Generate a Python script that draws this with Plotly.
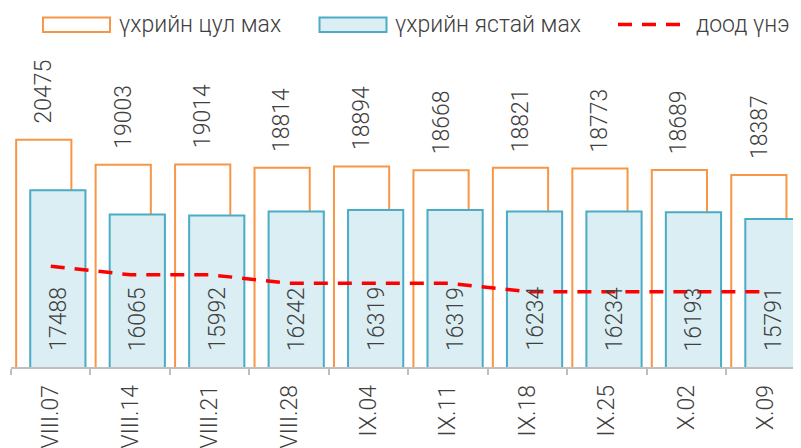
import plotly.graph_objects as go

categories = ["VIII.07", "VIII.14", "VIII.21", "VIII.28", "IX.04", "IX.11", "IX.18", "IX.25", "X.02", "X.09"]
cul_max = [20475, 19003, 19014, 18814, 18894, 18668, 18821, 18773, 18689, 18387]
yastai_max = [17488, 16065, 15992, 16242, 16319, 16319, 16234, 16234, 16193, 15791]
dood_une = [13000, 12500, 12500, 12000, 12000, 12000, 11500, 11500, 11500, 11500]
series_names = ["үхрийн цул мах", "үхрийн ястай мах", "доод үнэ"]

ORANGE = "#F79646"
BLUE_LINE = "#4BACC6"
BLUE_FILL = "#DAEEF3"
RED = "#FF0000"
TXT = "#404040"
FONT = "Roboto"
FS = 23

# page has an 8px body margin; work in page pixels and convert
OFF = 8
W, H = 801 - OFF, 448 - OFF
ML, MR, MT, MB = 11 - OFF, 0, 60 - OFF, 81
PW = W - ML - MR
PH = H - MT - MB
YMIN = 7050
YMAX = YMIN + PH / 0.01693
XMAX = 9.443
PXCAT = PW / (XMAX + 0.5)

BW = 0.695
OFF_O = -0.435
OFF_B = -0.258

fig = go.Figure()
fig.add_trace(go.Bar(
    x=categories, y=cul_max, name=series_names[0],
    width=BW, offset=OFF_O,
    marker=dict(color="white", line=dict(color=ORANGE, width=2)),
    showlegend=False, hoverinfo="y",
))
fig.add_trace(go.Bar(
    x=categories, y=yastai_max, name=series_names[1],
    width=BW, offset=OFF_B,
    marker=dict(color=BLUE_FILL, line=dict(color=BLUE_LINE, width=2)),
    showlegend=False, hoverinfo="y",
))
fig.add_trace(go.Scatter(
    x=categories, y=dood_une, name=series_names[2], mode="lines",
    line=dict(color=RED, width=3.5, dash="14px,10px"),
    showlegend=False, hoverinfo="y",
))

xs_o = (OFF_O + BW / 2) * PXCAT
xs_b = (OFF_B + BW / 2) * PXCAT
annotations = []
for c, v in zip(categories, cul_max):
    annotations.append(dict(x=c, y=v, xref="x", yref="y", text=str(v), showarrow=False,
                            textangle=-90, xanchor="center", yanchor="bottom",
                            xshift=xs_o, yshift=14,
                            font=dict(family=FONT, size=FS, color=TXT, weight=300)))
for c, v in zip(categories, yastai_max):
    annotations.append(dict(x=c, y=0, xref="x", yref="paper", text=str(v), showarrow=False,
                            textangle=-90, xanchor="center", yanchor="bottom",
                            xshift=xs_b, yshift=14,
                            font=dict(family=FONT, size=FS, color=TXT, weight=300)))

def px2x(px):
    return (px - OFF - ML) / PW

def py2y(py):
    return (H - MB - (py - OFF)) / PH

shapes = []
shapes.append(dict(type="rect", xref="paper", yref="paper",
                   x0=px2x(43), x1=px2x(110), y0=py2y(32), y1=py2y(17.5),
                   line=dict(color=ORANGE, width=2), fillcolor="white"))
shapes.append(dict(type="rect", xref="paper", yref="paper",
                   x0=px2x(319.5), x1=px2x(386.5), y0=py2y(32), y1=py2y(17.5),
                   line=dict(color=BLUE_LINE, width=2), fillcolor=BLUE_FILL))
shapes.append(dict(type="line", xref="paper", yref="paper",
                   x0=px2x(618), x1=px2x(680), y0=py2y(24.5), y1=py2y(24.5),
                   line=dict(color=RED, width=3.5, dash="14px,10px")))
for px, name in zip([117, 393, 694], series_names):
    annotations.append(dict(x=px2x(px), y=py2y(24.5), xref="paper", yref="paper",
                            text=name, showarrow=False, xanchor="left", yanchor="middle",
                            font=dict(family=FONT, size=FS, color=TXT, weight=300)))

fig.update_layout(
    width=W, height=H,
    margin=dict(l=ML, r=MR, t=MT, b=MB, pad=0),
    plot_bgcolor="white", paper_bgcolor="white",
    barmode="overlay",
    font=dict(family=FONT, size=FS, color=TXT, weight=300),
    xaxis=dict(type="category", range=[-0.5, XMAX], showgrid=False, zeroline=False,
               showline=True, linecolor="#BFBFBF", linewidth=1.5,
               ticks="outside", tickson="boundaries", ticklen=6, tickcolor="#BFBFBF", tickwidth=1.5,
               tickangle=-90, ticklabelstandoff=7,
               tickfont=dict(family=FONT, size=FS, color=TXT, weight=300)),
    yaxis=dict(range=[YMIN, YMAX], visible=False, showgrid=False, zeroline=False),
    annotations=annotations,
    shapes=shapes,
)

fig.write_html("out.html")
